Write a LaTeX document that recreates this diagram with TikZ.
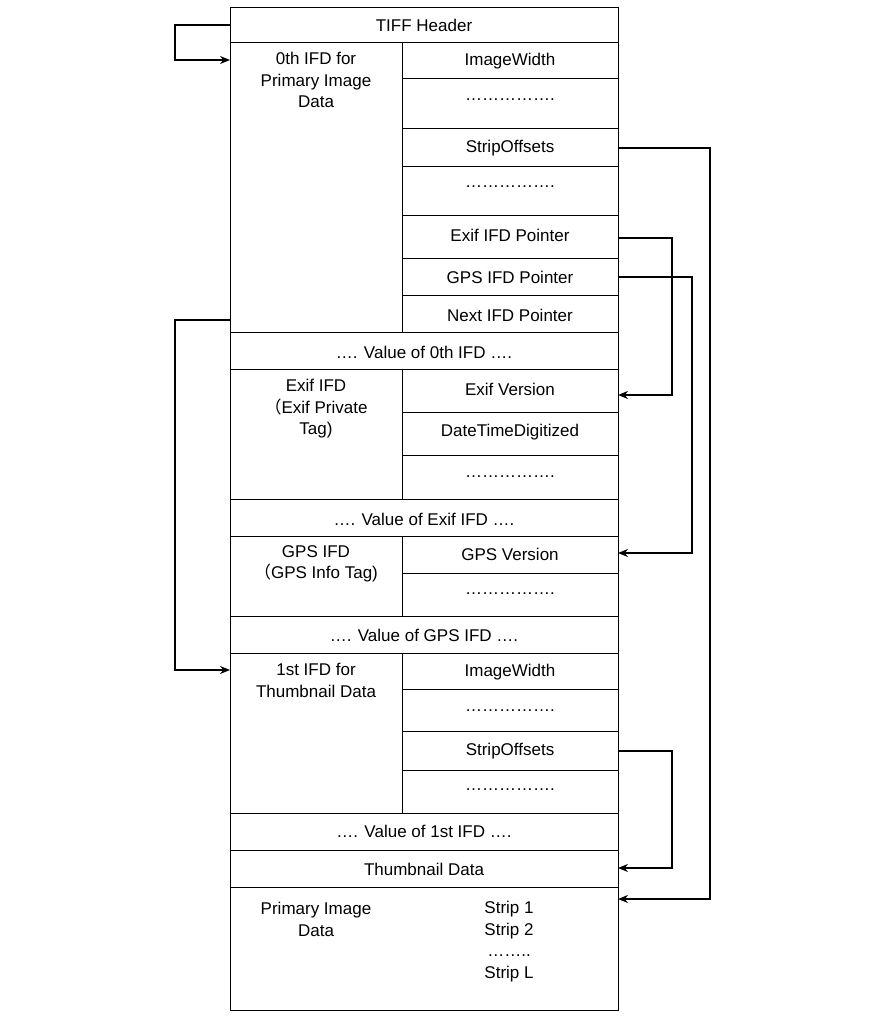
\documentclass[tikz,border=0pt]{standalone}
\usepackage{fontspec}
\setmainfont{Liberation Sans}
\newfontfamily\cjk{Noto Sans CJK SC}
\usetikzlibrary{arrows.meta}
\begin{document}
\begin{tikzpicture}[x=1pt,y=-1pt,
  t/.style={font=\fontsize{17}{21.5}\selectfont,align=center,inner sep=0pt},
  ln/.style={line width=0.9pt},
  ar/.style={line width=1.5pt,-{Stealth[length=10pt,width=8pt]}}]
\useasboundingbox (0,0) rectangle (868,1024);
\draw[ln] (230,7) rectangle (618,1010);
\foreach \y in {42,332,369,499,536,616,653,813,850,887} \draw[ln] (230,\y) -- (618,\y);
\draw[ln] (402,42) -- (402,332);
\draw[ln] (402,369) -- (402,499);
\draw[ln] (402,536) -- (402,616);
\draw[ln] (402,653) -- (402,813);
\foreach \y in {78,128,166,215,258,295,412,455,573,689,731,770} \draw[ln] (402,\y) -- (618,\y);
\node[t] (th) at (424,25) {TIFF Header};
\node[t,anchor=north] (ifd0) at (316,52) {0th IFD for\\Primary Image\\Data};
\node[t] (iw0) at (510,61) {ImageWidth};
\node[t] (d1) at (510,100) {…………….};
\node[t] (so0) at (510,148) {StripOffsets};
\node[t] (d2) at (510,187) {…………….};
\node[t] (ep) at (510,235) {Exif IFD Pointer};
\node[t] (gp) at (510,277) {GPS IFD Pointer};
\node[t] (np) at (510,315) {Next IFD Pointer};
\node[t] (v0) at (424,352) {…. Value of 0th IFD ….};
\node[t,anchor=north] (exif) at (316,379) {Exif IFD\\{\cjk （}Exif Private\\Tag)};
\node[t] (ev) at (510,389) {Exif Version};
\node[t] (dtd) at (510,432) {DateTimeDigitized};
\node[t] (d3) at (510,477) {…………….};
\node[t] (ve) at (424,519) {…. Value of Exif IFD ….};
\node[t,anchor=north] (gps) at (316,545) {GPS IFD\\{\cjk （}GPS Info Tag)};
\node[t] (gv) at (510,554) {GPS Version};
\node[t] (d4) at (510,594) {…………….};
\node[t] (vg) at (424,635) {…. Value of GPS IFD ….};
\node[t,anchor=north] (ifd1) at (316,663) {1st IFD for\\Thumbnail Data};
\node[t] (iw1) at (510,672) {ImageWidth};
\node[t] (d5) at (510,711) {…………….};
\node[t] (so1) at (510,751) {StripOffsets};
\node[t] (d6) at (510,790) {…………….};
\node[t] (v1) at (424,831) {…. Value of 1st IFD ….};
\node[t] (tn) at (424,869) {Thumbnail Data};
\node[t,anchor=north] (pid) at (316,902) {Primary Image\\Data};
\node[t,anchor=north] (st) at (509,901) {Strip 1\\Strip 2\\……..\\Strip L};
\coordinate (a1s) at (230,25); \coordinate (a1e) at (230,60);
\coordinate (a2s) at (618,148); \coordinate (a2e) at (618,899);
\coordinate (a3s) at (618,238); \coordinate (a3e) at (618,395);
\coordinate (a4s) at (618,277); \coordinate (a4e) at (618,553);
\coordinate (a5s) at (230,320); \coordinate (a5e) at (230,670);
\coordinate (a6s) at (618,751); \coordinate (a6e) at (618,868);
\draw[ar] (a1s) -- (175,25) -- (175,60) -- (a1e);
\draw[ar] (a2s) -- (710,148) -- (710,899) -- (a2e);
\draw[ar] (a3s) -- (672,238) -- (672,395) -- (a3e);
\draw[ar] (a4s) -- (692,277) -- (692,553) -- (a4e);
\draw[ar] (a5s) -- (175,320) -- (175,670) -- (a5e);
\draw[ar] (a6s) -- (672,751) -- (672,868) -- (a6e);
\end{tikzpicture}
\end{document}
